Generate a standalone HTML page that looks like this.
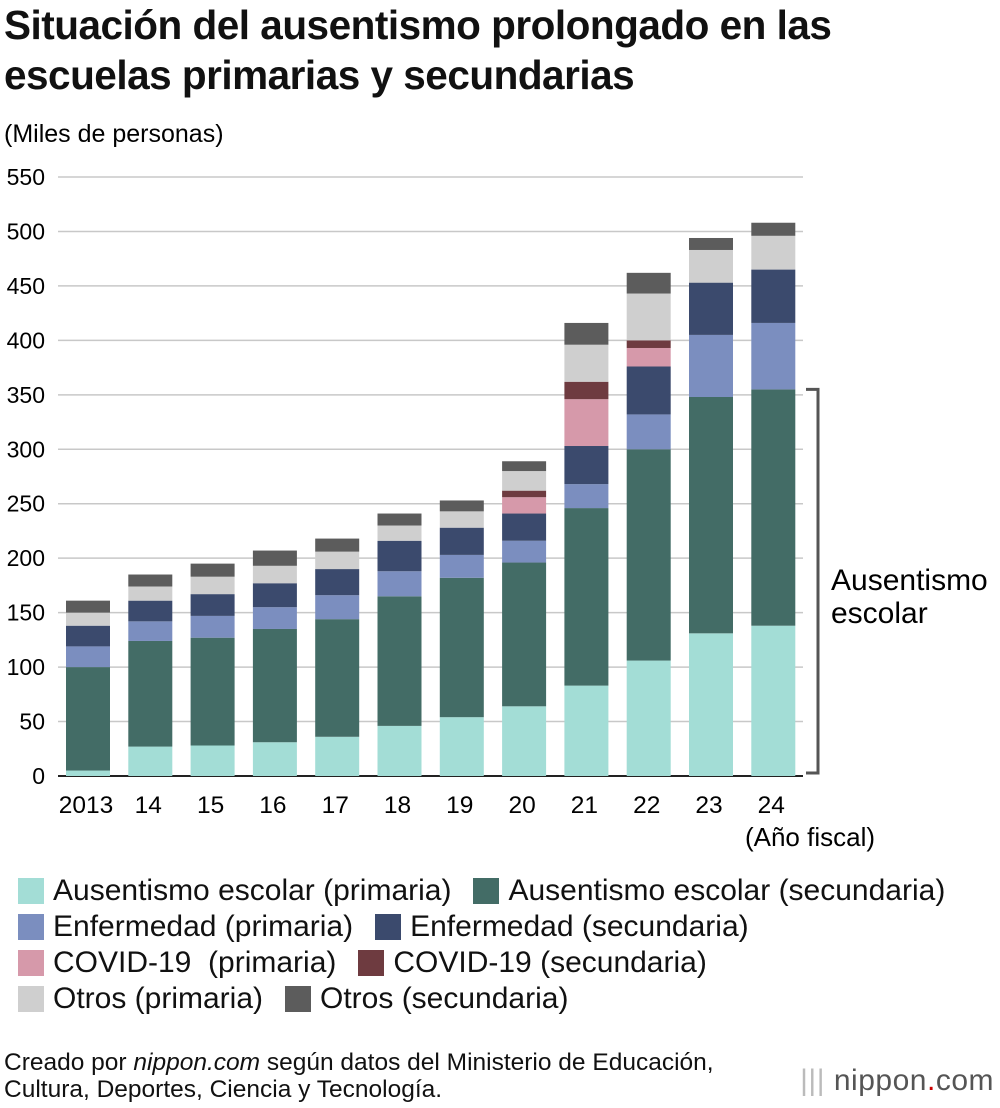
<!DOCTYPE html>
<html><head><meta charset="utf-8"><style>
body{margin:0;width:1000px;height:1108px;background:#fff;font-family:"Liberation Sans",Arial,sans-serif;color:#111;position:relative;overflow:hidden}
.t{position:absolute;left:4px;top:0px;font-size:40.5px;font-weight:bold;line-height:50px;letter-spacing:-0.5px}
.leg{position:absolute;left:18px;font-size:30px;display:flex;align-items:center}
.sw{display:inline-block;width:26px;height:26px;margin-right:9px}
.foot{position:absolute;left:4px;top:1049px;font-size:24.5px;line-height:27px}
</style></head><body>
<div class="t">Situación del ausentismo prolongado en las<br>escuelas primarias y secundarias</div>
<svg id="c" width="1000" height="860" style="position:absolute;left:0;top:0"></svg>
<div class="leg" style="top:874px"><span class="sw" style="background:#a3ddd6"></span>Ausentismo escolar (primaria)<span class="sw" style="background:#436c66;margin-left:22px"></span>Ausentismo escolar (secundaria)</div>
<div class="leg" style="top:910px"><span class="sw" style="background:#7b8ebf"></span>Enfermedad (primaria)<span class="sw" style="background:#3b4a6d;margin-left:22px"></span>Enfermedad (secundaria)</div>
<div class="leg" style="top:946px"><span class="sw" style="background:#d699aa"></span>COVID-19&nbsp; (primaria)<span class="sw" style="background:#6e3b40;margin-left:22px"></span>COVID-19 (secundaria)</div>
<div class="leg" style="top:982px"><span class="sw" style="background:#cfcfcf"></span>Otros (primaria)<span class="sw" style="background:#5c5c5c;margin-left:22px"></span>Otros (secundaria)</div>
<div class="foot">Creado por <i>nippon.com</i> según datos del Ministerio de Educación,<br>Cultura, Deportes, Ciencia y Tecnología.</div>
<div style="position:absolute;right:6px;top:1064px;font-size:30px;color:#555;letter-spacing:0.5px"><span style="color:#bbb">|||</span> nippon<span style="color:#c00">.</span>com</div>
<script>
const categories=["2013","14","15","16","17","18","19","20","21","22","23","24"];
const ausPrim=[5,27,28,31,36,46,54,64,83,106,131,138];
const ausSec=[95,97,99,104,108,119,128,132,163,194,217,217];
const enfPrim=[19,18,20,20,22,23,21,20,22,32,57,61];
const enfSec=[19,19,20,22,24,28,25,25,35,44,48,49];
const covPrim=[0,0,0,0,0,0,0,15,43,17,0,0];
const covSec=[0,0,0,0,0,0,0,6,16,7,0,0];
const otrPrim=[12,13,16,16,16,14,15,18,34,43,30,31];
const otrSec=[11,11,12,14,12,11,10,9,20,19,11,12];
const ticks=[0,50,100,150,200,250,300,350,400,450,500,550];
const series=[ausPrim,ausSec,enfPrim,enfSec,covPrim,covSec,otrPrim,otrSec];
const colors=["#a3ddd6","#436c66","#7b8ebf","#3b4a6d","#d699aa","#6e3b40","#cfcfcf","#5c5c5c"];
const names=["aus-prim","aus-sec","enf-prim","enf-sec","covid-prim","covid-sec","otros-prim","otros-sec"];
const svg=document.getElementById('c');const NS="http://www.w3.org/2000/svg";
const y=v=>776-v*(599/550);const x=i=>88+i*62.3;
function mk(t,a,txt){const e=document.createElementNS(NS,t);for(const k in a)e.setAttribute(k,a[k]);if(txt!=null)e.textContent=txt;svg.appendChild(e);return e;}
ticks.forEach(v=>{
 const l=mk('line',{x1:58,x2:803,y1:y(v),y2:y(v),stroke:v?'#c8c8c8':'#222','stroke-width':v?1.5:2});
 
 
 const t=mk('text',{x:45,y:y(v)+8,'text-anchor':'end','font-size':23},v);
 
 
});
const yt=mk('text',{x:4,y:142,'font-size':25},'(Miles de personas)');


categories.forEach((c,i)=>{
 let acc=0;
 series.forEach((s,k)=>{const v=s[i];if(!v)return;
  const r=mk('rect',{x:x(i)-22,y:y(acc+v),width:44,height:y(acc)-y(acc+v),fill:colors[k]});
  
  
  acc+=v;});
 const t=mk('text',{x:x(i)-2,y:813,'text-anchor':'middle','font-size':24.5},c);
 
 
});
const ft=mk('text',{x:810,y:846,'text-anchor':'middle','font-size':26},'(Año fiscal)');


const bTop=y(ausPrim[11]+ausSec[11]);
const br=mk('path',{d:`M806 ${bTop}H818V773H806`,fill:'none',stroke:'#555','stroke-width':3});


const a1=mk('text',{x:831,y:590,'font-size':30},'Ausentismo');


const a2=mk('text',{x:831,y:623,'font-size':30},'escolar');


</script>
</body></html>
